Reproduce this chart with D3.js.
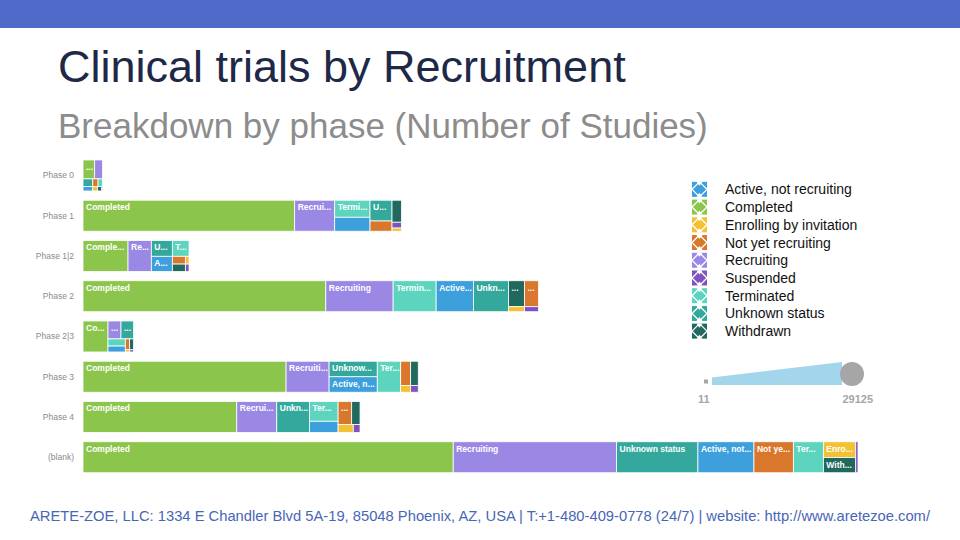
<!DOCTYPE html>
<html><head><meta charset="utf-8">
<script src="https://cdn.jsdelivr.net/npm/d3@7"></script>
<style>
body{margin:0;background:#fff;}
svg{display:block;font-family:"Liberation Sans",Arial,Helvetica,sans-serif;}
</style>
</head><body>
<svg id="chart" width="960" height="540"></svg>
<script>
// ---- data ----
const phases = ["Phase 0","Phase 1","Phase 1|2","Phase 2","Phase 2|3","Phase 3","Phase 4","(blank)"];
const statuses = ["Active, not recruiting","Completed","Enrolling by invitation","Not yet recruiting","Recruiting","Suspended","Terminated","Unknown status","Withdrawn"];
const statusColors = ["#3d9fdc","#8cc54b","#f4c132","#d9782d","#9b88e4","#7f52bf","#5dd5be","#34a89c","#21695f"];
// values per status, in phase order
const activeNotRecruiting   = [110, 1250, 808, 2935, 259, 1890, 816, 4407];
const completed             = [560, 16650, 3542, 19100, 1968, 15976, 12096, 29125];
const enrollingByInvitation = [50, 76, 73, 203, 24, 170, 305, 1298];
const notYetRecruiting      = [105, 570, 257, 924, 119, 615, 795, 3100];
const recruiting            = [380, 3150, 1834, 5297, 590, 3384, 3148, 12852];
const suspended             = [11, 140, 69, 178, 22, 130, 136, 181];
const terminated            = [90, 1530, 672, 3384, 315, 1840, 1442, 2361];
const unknownStatus         = [190, 1160, 845, 2755, 574, 1900, 2566, 6398];
const withdrawn             = [45, 530, 244, 1055, 109, 470, 490, 1245];
const series = [activeNotRecruiting, completed, enrollingByInvitation, notYetRecruiting,
                recruiting, suspended, terminated, unknownStatus, withdrawn];

const titleText = "Clinical trials by Recruitment";
const subtitleText = "Breakdown by phase (Number of Studies)";
const footerText = "ARETE-ZOE, LLC: 1334 E Chandler Blvd 5A-19, 85048 Phoenix, AZ, USA | T:+1-480-409-0778 (24/7) | website: http://www.aretezoe.com/";

// ---- drawing ----
const svg = d3.select("#chart");

svg.append("rect").attr("x",0).attr("y",0).attr("width",960).attr("height",28).attr("fill","#4f6ac9");

svg.append("text").attr("x",58).attr("y",82).attr("font-size",45).attr("fill","#1e2847")
  .text(titleText);
svg.append("text").attr("x",58).attr("y",138).attr("font-size",35).attr("fill","#8c8c8c")
  .text(subtitleText);

svg.append("text").attr("x",30).attr("y",521).attr("font-size",14).attr("fill","#4866b6")
  .attr("textLength",900).attr("lengthAdjust","spacingAndGlyphs")
  .text(footerText);

const totals = phases.map((p,i) => d3.sum(series, s => s[i]));
const x = d3.scaleLinear().domain([0, d3.max(totals)]).range([83, 858]);
const y = d3.scaleBand().domain(phases).range([150.7, 482]).padding(0.23);

// category labels
svg.append("g").selectAll("text").data(phases).join("text")
  .attr("x",74).attr("y",p => y(p) + y.bandwidth()/2 + 3)
  .attr("text-anchor","end").attr("font-size",8.5).attr("fill","#8a8a8a")
  .text(p => p);

const LABEL_SIZE = 8.5;
const measurer = svg.append("text").attr("font-size",LABEL_SIZE).attr("font-weight","bold").attr("visibility","hidden");
function fitLabel(name, avail){
  measurer.text(name);
  if (measurer.node().getComputedTextLength() <= avail) return name;
  for (let k = name.length-1; k >= 0; k--){
    const t = name.slice(0,k).replace(/\s+$/,"") + "...";
    measurer.text(t);
    if (measurer.node().getComputedTextLength() <= avail) return t;
  }
  return "...";
}

phases.forEach((p,i) => {
  const root = d3.hierarchy({children: statuses.map((s,j) => ({name:s, color:statusColors[j], value:series[j][i]}))})
    .sum(d => d.children ? 0 : d.value)
    .sort((a,b) => b.value - a.value);
  d3.treemap().tile(d3.treemapSquarify).size([x(totals[i]) - x(0), y.bandwidth()])(root);
  const g = svg.append("g").attr("transform",`translate(${x(0)},${y(p)})`);
  const cell = g.selectAll("g").data(root.leaves()).join("g")
    .attr("transform", d => `translate(${d.x0},${d.y0})`);
  cell.append("rect")
    .attr("width", d => Math.max(0, d.x1 - d.x0))
    .attr("height", d => Math.max(0, d.y1 - d.y0))
    .attr("fill", d => d.data.color)
    .attr("stroke","#fff").attr("stroke-width",0.8);
  cell.filter(d => (d.x1 - d.x0) >= 11 && (d.y1 - d.y0) >= 14)
    .append("text")
    .attr("x",3).attr("y",10)
    .attr("font-size",LABEL_SIZE).attr("font-weight","bold").attr("fill","#fff")
    .text(d => fitLabel(d.data.name, d.x1 - d.x0 - 4));
});
measurer.remove();

// legend
const legend = svg.append("g");
const ly = d3.scaleBand().domain(statuses).range([180.5, 340]);
const li = legend.selectAll("g").data(statuses).join("g")
  .attr("transform", s => `translate(692,${ly(s) + ly.bandwidth()/2})`);
li.append("rect").attr("x",0).attr("y",-7.5).attr("width",15).attr("height",15)
  .attr("fill",(s,j) => statusColors[j]);
li.append("path").attr("d","M7.5,-7.5 L15,0 L7.5,7.5 L0,0 Z").attr("fill","none")
  .attr("stroke","#fff").attr("stroke-width",1.3);
li.append("path").attr("d","M4.5,-7.5 L10.5,-7.5 L7.5,-3.5 Z M4.5,7.5 L10.5,7.5 L7.5,3.5 Z").attr("fill","#fff");
li.append("text").attr("x",33).attr("y",5).attr("font-size",14).attr("fill","#111")
  .text(s => s);

// size legend from data extent
const allVals = series.flat();
const sizeExtent = d3.extent(allVals);
const sizeLeg = svg.append("g");
sizeLeg.append("rect").attr("x",704).attr("y",379.5).attr("width",4).attr("height",4).attr("fill","#a6a6a6");
sizeLeg.append("path").attr("d","M712,385 L712,377.5 L842,362 L842,385 Z").attr("fill","#a3d6ec");
sizeLeg.append("circle").attr("cx",852).attr("cy",374).attr("r",12).attr("fill","#a6a6a6");
sizeLeg.append("text").attr("x",698).attr("y",403).attr("font-size",11).attr("font-weight","bold").attr("fill","#a6a6a6")
  .text(sizeExtent[0]);
sizeLeg.append("text").attr("x",873).attr("y",403).attr("text-anchor","end").attr("font-size",11).attr("font-weight","bold").attr("fill","#a6a6a6")
  .text(sizeExtent[1]);
</script>
</body></html>
